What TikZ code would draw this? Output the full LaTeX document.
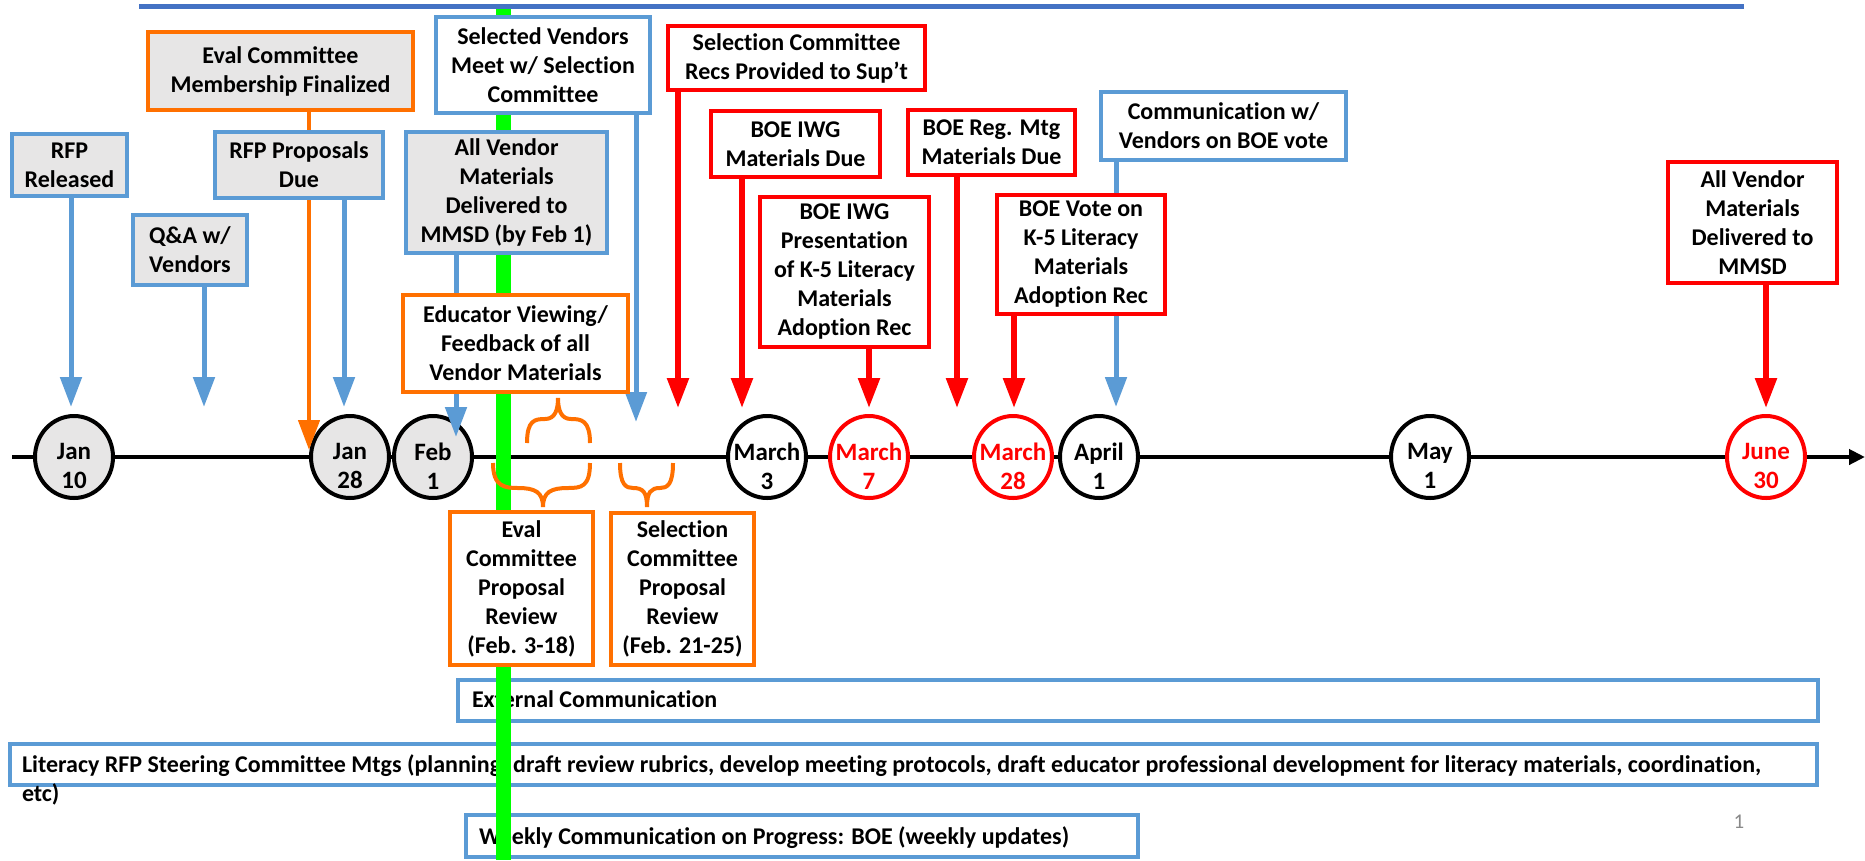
\documentclass[tikz,border=0pt]{standalone}
\usepackage{fontspec}
\setmainfont{Carlito}[RawFeature={-liga;-clig;-calt;-rlig;-dlig}]
\usetikzlibrary{arrows.meta,shapes.geometric}
\definecolor{bblue}{RGB}{91,155,213}
\definecolor{borange}{RGB}{255,112,0}
\definecolor{bred}{RGB}{255,0,0}
\definecolor{bgray}{RGB}{231,230,230}
\definecolor{bgreen}{RGB}{0,255,0}
\definecolor{topblue}{RGB}{68,114,196}
\definecolor{pggray}{RGB}{137,137,137}
\pgfdeclarelayer{back}
\pgfdeclarelayer{mid}
\pgfsetlayers{back,mid,main}
\begin{document}
\begin{tikzpicture}[x=1pt,y=-1pt,
  every node/.style={font=\fontsize{24}{29}\selectfont\bfseries, inner sep=0pt, outer sep=0pt},
  wh/.style 2 args={minimum width=#1pt, minimum height=#2pt},
  box/.style={rectangle, draw, line width=4.5pt, align=center, fill=white},
  bluebox/.style={box, draw=bblue},
  graybox/.style={bluebox, fill=bgray},
  orangebox/.style={box, draw=borange},
  orangegray/.style={orangebox, fill=bgray},
  redbox/.style={box, draw=bred},
  band/.style={rectangle, draw=bblue, line width=3.5pt},
  bandtext/.style={anchor=base west},
  datec/.style={ellipse, draw=black, line width=4pt, fill=white, minimum width=78pt, minimum height=82pt},
  dategray/.style={datec, fill=bgray},
  datered/.style={datec, draw=bred},
  dlab/.style={align=center, yshift=-9pt, font=\fontsize{25}{29}\selectfont\bfseries},
  dlabred/.style={dlab, text=bred},
  barrow/.style={draw=bblue, line width=5pt, -{Triangle[length=30pt,width=21pt]}},
  rarrow/.style={draw=bred, line width=5.5pt, -{Triangle[length=30pt,width=21pt]}},
  oarrow/.style={draw=borange, line width=4.5pt, -{Triangle[length=30pt,width=21pt]}},
  bracel/.style={draw=borange, line width=4pt}
]
\useasboundingbox (0,0) rectangle (1865,860);

% ---------- upper boxes (main layer) ----------
\node[graybox, wh={115}{62}] (rfp) at (69.5,165) {RFP\\Released};
\node[graybox, wh={114}{70}] (qa) at (190,250) {Q\&A w/\\Vendors};
\node[orangegray, wh={265}{78}] (evalm) at (280.5,71) {Eval Committee\\Membership Finalized};
\node[graybox, wh={168}{66}] (rfpdue) at (299,165) {RFP Proposals\\Due};
\node[bluebox, wh={214}{96}] (selv) at (543,65) {Selected Vendors\\Meet w/ Selection\\Committee};
\node[graybox, wh={201}{121}] (allv) at (506.5,192.5) {All Vendor\\Materials\\Delivered to\\MMSD (by Feb 1)};
\node[orangebox, wh={225}{97}] (edu) at (515.5,343.5) {Educator Viewing/\\Feedback of all\\Vendor Materials};
\node[orangebox, wh={143}{153}] (evalpr) at (521.5,588.5) {Eval\\Committee\\Proposal\\Review\\(Feb. 3-18)};
\node[orangebox, wh={143}{152}] (selpr) at (682.5,589) {Selection\\Committee\\Proposal\\Review\\(Feb. 21-25)};
\node[redbox, wh={257}{64}] (recs) at (796.5,58) {Selection Committee\\Recs Provided to Sup’t};
\node[redbox, wh={169}{66}] (iwgdue) at (795.5,144) {BOE IWG\\Materials Due};
\node[redbox, wh={169}{150}] (iwgpres) at (844.5,272) {BOE IWG\\Presentation\\of K-5 Literacy\\Materials\\Adoption Rec};
\node[redbox, wh={167}{65}] (regdue) at (991.5,142.5) {BOE Reg. Mtg\\Materials Due};
\node[bluebox, wh={245}{68}] (comm) at (1223.5,126) {Communication w/\\Vendors on BOE vote};
\node[redbox, wh={168}{119}] (vote) at (1081,254.5) {BOE Vote on\\K-5 Literacy\\Materials\\Adoption Rec};
\node[redbox, wh={169}{121}] (june) at (1752.5,222.5) {All Vendor\\Materials\\Delivered to\\MMSD};

% braces
\draw[bracel] (527,443) .. controls (527,420) and (535,419) .. (545,419) .. controls (555,419) and (558,410) .. (558,398)
  .. controls (558,410) and (561,419) .. (571,419) .. controls (581,419) and (590,420) .. (590,443);
\draw[bracel] (493,463) .. controls (493,487) and (505,488) .. (518,488) .. controls (535,488) and (543,492) .. (543,507)
  .. controls (543,492) and (551,488) .. (568,488) .. controls (581,488) and (590,487) .. (590,463);
\draw[bracel] (620,463) .. controls (620,485) and (626,488) .. (633,488) .. controls (643,488) and (647,492) .. (647,507)
  .. controls (647,492) and (651,488) .. (660,488) .. controls (667,488) and (673,485) .. (673,463);

% top line
\coordinate (top0) at (139,6);
\coordinate (top1) at (1744,6);
\draw[topblue, line width=5pt] (top0) -- (top1);

\node[font=\fontsize{21}{25}\selectfont, text=pggray] (pg) at (1739,822) {1};

% ---------- green line ----------
\begin{pgfonlayer}{mid}
\coordinate (g0) at (503,5);
\coordinate (g1) at (503,860);
\draw[bgreen, line width=15pt] (g0) -- (g1);
\end{pgfonlayer}

% ---------- back layer ----------
\begin{pgfonlayer}{back}
\coordinate (tl0) at (12,457);
\coordinate (tl1) at (1865,457);
\draw[line width=4pt, -{Triangle[length=16pt,width=15pt]}] (tl0) -- (tl1);

\node[dategray, label={[dlab]center:{Jan\\10}}] (d1) at (74,457) {};
\node[dategray, label={[dlab]center:{Jan\\28}}] (d2) at (350,457) {};
\node[dategray, label={[dlab]center:{Feb\\1}}] (d3) at (433,457) {};
\node[datec, label={[dlab]center:{March\\3}}] (d4) at (767,457) {};
\node[datered, label={[dlabred]center:{March\\7}}] (d5) at (869,457) {};
\node[datered, label={[dlabred]center:{March\\28}}] (d6) at (1013,457) {};
\node[datec, label={[dlab]center:{April\\1}}] (d7) at (1099,457) {};
\node[datec, label={[dlab]center:{May\\1}}] (d8) at (1430,457) {};
\node[datered, label={[dlabred]center:{June\\30}}] (d9) at (1766,457) {};

% bottom bands
\node[band, wh={1360}{41}] (ext) at (1138,700.5) {};
\node[bandtext] (extt) at (472,707) {External Communication};
\node[band, wh={1807}{41}] (lit) at (913.5,764.5) {};
\node[bandtext] (litA) at (22,772) {Literacy RFP Steering Committee Mtgs (planning, draft review rubrics, develop meeting protocols, draft educator professional development for literacy materials, coordination,};
\node[bandtext] (litB) at (22,801) {etc)};
\node[band, wh={672}{42}] (weekly) at (802,836) {};
\node[bandtext] (weeklyt) at (479,844) {Weekly Communication on Progress: BOE (weekly updates)};

% arrow tips
\coordinate (t-rfp) at (71,407);
\coordinate (t-qa) at (204,407);
\coordinate (t-rfpdue) at (344,407);
\coordinate (t-evalm) at (309,450);
\coordinate (t-allv) at (456,437);
\coordinate (t-selv) at (636,422);
\coordinate (t-recs) at (678,408);
\coordinate (t-iwgdue) at (742,408);
\coordinate (t-iwgpres) at (869,408);
\coordinate (t-regdue) at (957,408);
\coordinate (t-vote) at (1014,408);
\coordinate (t-comm) at (1116,407);
\coordinate (t-june) at (1766,408);

\draw[barrow] (rfp.south -| t-rfp) -- (t-rfp);
\draw[barrow] (qa.south -| t-qa) -- (t-qa);
\draw[barrow] (rfpdue.south -| t-rfpdue) -- (t-rfpdue);
\draw[oarrow] (evalm.south -| t-evalm) -- (t-evalm);
\draw[barrow] (allv.south -| t-allv) -- (t-allv);
\draw[barrow] (selv.south -| t-selv) -- (t-selv);
\draw[rarrow] (recs.south -| t-recs) -- (t-recs);
\draw[rarrow] (iwgdue.south -| t-iwgdue) -- (t-iwgdue);
\draw[rarrow] (iwgpres.south -| t-iwgpres) -- (t-iwgpres);
\draw[rarrow] (regdue.south -| t-regdue) -- (t-regdue);
\draw[rarrow] (vote.south -| t-vote) -- (t-vote);
\draw[barrow] (comm.south -| t-comm) -- (t-comm);
\draw[rarrow] (june.south -| t-june) -- (t-june);
\end{pgfonlayer}
\end{tikzpicture}
\end{document}
